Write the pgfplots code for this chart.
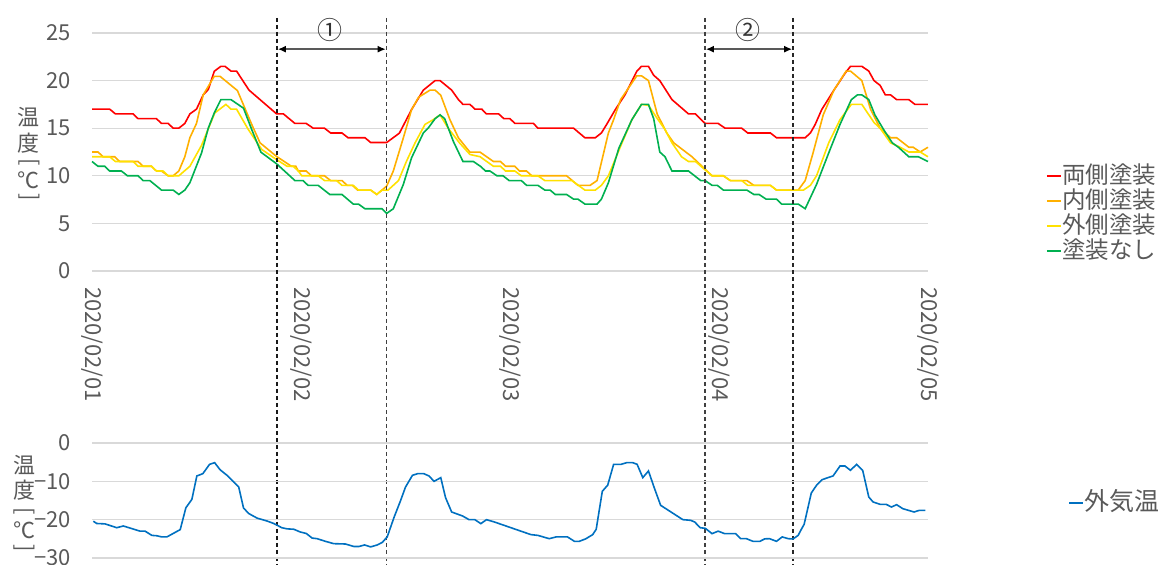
\documentclass[border=0pt]{standalone}
\usepackage{fontspec}
\setmainfont{Noto Sans CJK JP}
\usepackage{pgfplots}
\pgfplotsset{compat=1.18}
\usetikzlibrary{arrows.meta}
\definecolor{txtgray}{HTML}{595959}
\definecolor{gridgray}{HTML}{D9D9D9}
\definecolor{cRed}{HTML}{FF0000}
\definecolor{cOrange}{HTML}{FFB000}
\definecolor{cYellow}{HTML}{FFE100}
\definecolor{cGreen}{HTML}{00B050}
\definecolor{cBlue}{HTML}{0070C0}
\pgfplotsset{
  legend image code/.code={\draw[line width=0.9pt,#1] (0pt,0pt) -- (7pt,0pt);},
  exstyle/.style={
    scale only axis, width=418pt, xmin=0, xmax=96, clip=false,
    axis line style={draw=none}, tick style={draw=none}, major tick length=0pt,
    ymajorgrids, grid style={gridgray, line width=0.6pt},
    /pgf/number format/assume math mode=true,
    ticklabel style={font=\fontsize{11}{12}\selectfont, text=txtgray},
    yticklabel style={xshift=-7pt},
    legend style={draw=none, fill=none, font=\fontsize{11.75}{12.5}\selectfont, text=txtgray,
      inner sep=0pt, outer sep=0pt, row sep=0pt,
      nodes={inner sep=0.3pt, text height=9.8pt, text depth=2.2pt}},
    legend cell align=left,
    every axis plot/.append style={line width=0.8pt, mark=none},
  }
}
\begin{document}
\begin{tikzpicture}
\begin{axis}[exstyle, at={(46pt,-135.5pt)}, anchor=south west, height=119pt,
  ymin=0, ymax=25, ytick={0,5,10,15,20,25},
  xtick={0,24,48,72,96},
  xticklabels={2020/02/01,2020/02/02,2020/02/03,2020/02/04,2020/02/05},
  xticklabel style={yshift=-4.5pt, rotate=-90, anchor=west},
  legend style={at={(1.141,0.2416)}, anchor=west}]
\addplot[color=cRed] coordinates {(0,17.0) (2.03,17.0) (2.69,16.5) (4.72,16.5) (5.29,16.0) (7.4,16.0) (7.98,15.5) (8.75,15.5) (9.32,15.0) (9.97,15.0) (10.66,15.5) (11.24,16.5) (12.0,17.0) (12.77,18.5) (13.35,19.06) (14.04,20.98) (14.8,21.5) (15.27,21.5) (15.96,21.0) (16.6,21.0) (18.03,19.0) (21.2,16.5) (21.98,16.5) (23.3,15.5) (24.6,15.5) (25.4,15.0) (26.7,15.0) (27.4,14.5) (28.7,14.5) (29.4,14.0) (31.34,14.0) (32.0,13.5) (33.84,13.5) (35.3,14.48) (36.7,16.96) (38.05,19.0) (39.4,20.0) (39.97,20.0) (41.3,19.0) (42.08,18.0) (42.6,17.5) (43.4,17.5) (43.98,17.0) (44.76,17.0) (45.3,16.5) (46.7,16.5) (47.3,16.0) (48.0,16.0) (48.56,15.5) (50.7,15.5) (51.2,15.0) (55.3,15.0) (56.6,14.0) (57.8,14.0) (58.5,14.5) (59.1,15.4) (60.1,16.96) (61.2,18.5) (62.56,20.98) (63.1,21.5) (63.9,21.5) (64.5,20.56) (65.2,20.0) (66.6,18.0) (68.5,16.5) (69.3,16.5) (70.4,15.5) (71.9,15.5) (72.7,15.0) (74.6,15.0) (75.3,14.5) (77.9,14.5) (78.6,14.0) (81.9,14.0) (82.5,14.5) (83.05,15.4) (83.8,16.96) (85.2,19.0) (86.5,20.8) (87.1,21.5) (88.4,21.5) (89.2,21.0) (89.8,20.0) (90.5,19.5) (91.1,18.5) (91.7,18.5) (92.4,18.0) (93.8,18.0) (94.5,17.5) (96,17.5)};
\addlegendentry{両側塗装}
\addplot[color=cOrange] coordinates {(0,12.5) (0.69,12.5) (1.27,12.0) (2.6,12.0) (3.18,11.5) (5.29,11.5) (5.87,11.0) (6.83,11.0) (7.4,10.5) (7.98,10.5) (8.75,10.0) (9.32,10.0) (9.97,10.5) (10.66,12.0) (11.24,14.0) (12.0,15.5) (12.77,18.5) (14.04,20.45) (14.7,20.45) (16.7,18.95) (18.34,15.4) (19.3,13.46) (21.2,12.03) (22.9,11.0) (23.4,11.0) (23.7,10.5) (24.6,10.5) (25.2,10.0) (26.7,10.0) (27.4,9.5) (28.7,9.5) (29.3,9.0) (29.9,9.0) (30.5,8.5) (32.0,8.5) (32.7,8.04) (33.84,8.92) (34.6,10.5) (35.75,13.98) (36.7,16.96) (37.5,18.25) (38.82,19.0) (39.4,19.0) (40.05,18.46) (41.1,15.9) (42.08,13.98) (43.4,12.48) (44.57,12.48) (46.1,11.5) (46.9,11.5) (47.5,11.0) (48.56,11.0) (49.1,10.5) (49.9,10.5) (50.5,10.0) (54.5,10.0) (55.8,9.0) (57.2,9.0) (58.0,9.5) (59.3,14.5) (59.9,15.9) (60.7,18.0) (62.56,20.5) (63.1,20.5) (63.9,20.0) (64.9,16.5) (66.0,14.5) (66.8,13.46) (68.9,12.0) (71.2,10.0) (72.5,10.0) (73.3,9.5) (75.2,9.5) (76.0,9.0) (77.9,9.0) (78.6,8.5) (81.1,8.5) (81.9,9.5) (82.8,12.4) (83.97,16.4) (85.2,19.0) (86.6,21.0) (87.1,21.0) (88.4,20.0) (89.4,17.0) (90.5,15.0) (91.7,14.0) (92.4,14.0) (93.8,13.0) (94.3,13.0) (95.1,12.5) (96,13.0)};
\addlegendentry{内側塗装}
\addplot[color=cYellow] coordinates {(0,12.0) (2.03,12.0) (2.69,11.5) (4.72,11.5) (5.29,11.0) (6.83,11.0) (7.4,10.5) (8.17,10.5) (8.75,10.0) (9.97,10.0) (11.24,11.0) (12.58,13.2) (14.1,16.6) (15.38,17.5) (15.96,17.0) (16.6,17.0) (17.95,14.86) (19.5,12.76) (21.2,11.7) (22.4,11.0) (23.1,11.0) (23.7,10.5) (24.1,10.0) (25.97,10.0) (26.7,9.5) (28.08,9.5) (28.7,9.0) (30.0,9.0) (30.6,8.5) (32.0,8.5) (32.7,8.04) (33.3,8.5) (34.0,8.5) (35.2,9.5) (36.1,11.5) (37.1,13.46) (38.24,15.4) (39.2,15.9) (39.97,16.4) (40.9,15.0) (42.2,13.46) (43.4,12.24) (44.57,12.0) (46.1,11.0) (46.9,11.0) (47.5,10.5) (48.56,10.5) (49.3,10.0) (51.2,10.0) (52.0,9.5) (55.1,9.5) (56.6,8.5) (57.8,8.5) (58.5,9.0) (59.3,10.0) (60.7,13.1) (62.0,15.9) (63.1,17.5) (63.9,17.4) (65.0,15.9) (65.8,14.86) (66.6,13.46) (67.7,12.0) (68.5,11.5) (69.3,11.5) (71.2,10.0) (72.5,10.0) (73.3,9.5) (74.6,9.5) (75.3,9.0) (77.9,9.0) (78.6,8.5) (81.7,8.5) (82.5,9.0) (83.2,10.0) (84.6,13.46) (85.9,15.9) (87.2,17.5) (88.4,17.5) (89.8,15.6) (90.5,15.0) (91.7,13.46) (92.8,13.0) (93.8,12.5) (95.1,12.5) (96,12.0)};
\addlegendentry{外側塗装}
\addplot[color=cGreen] coordinates {(0,11.5) (0.69,11.0) (1.46,11.0) (2.03,10.5) (3.38,10.5) (4.07,10.0) (5.29,10.0) (5.87,9.5) (6.64,9.5) (7.98,8.5) (9.32,8.5) (9.97,8.04) (10.66,8.5) (11.24,9.27) (12.58,12.4) (13.35,15.0) (14.04,16.6) (14.8,18.0) (15.96,18.0) (17.4,17.1) (18.34,14.86) (19.4,12.48) (21.2,11.26) (23.3,9.5) (24.24,9.5) (24.8,9.0) (25.97,9.0) (27.3,8.04) (28.7,8.04) (30.0,7.03) (30.6,7.03) (31.34,6.54) (33.3,6.54) (33.84,6.05) (34.6,6.54) (35.75,9.09) (36.7,11.9) (38.05,14.5) (38.6,15.0) (39.4,16.0) (39.97,16.4) (40.5,16.0) (41.5,13.6) (42.6,11.5) (43.8,11.5) (44.6,11.0) (45.2,10.5) (45.7,10.5) (46.5,10.0) (47.2,10.0) (47.9,9.5) (49.3,9.5) (49.9,9.0) (51.2,9.0) (52.0,8.5) (52.6,8.5) (53.2,8.04) (54.5,8.04) (55.3,7.55) (55.8,7.55) (56.6,7.03) (58.0,7.03) (58.5,7.55) (59.3,9.27) (60.5,12.9) (62.0,15.9) (63.1,17.5) (63.9,17.5) (64.5,16.0) (65.2,12.5) (65.8,12.0) (66.6,10.5) (68.5,10.5) (69.9,9.5) (70.4,9.5) (71.2,9.0) (71.8,9.0) (72.5,8.5) (75.2,8.5) (76.0,8.04) (76.6,8.04) (77.4,7.55) (78.6,7.55) (79.2,7.03) (81.1,7.03) (81.9,6.54) (83.2,9.09) (84.6,12.4) (85.9,15.4) (87.2,18.0) (87.9,18.5) (88.4,18.5) (89.2,18.0) (89.9,16.4) (90.9,14.86) (91.9,13.46) (92.6,13.0) (93.8,12.0) (94.9,12.0) (96,11.5)};
\addlegendentry{塗装なし}
\draw[dash pattern=on 2pt off 1.5pt, line width=0.6pt, black!90] (axis cs:21.25,26.6) -- (axis cs:21.25,-31);
\draw[dash pattern=on 2pt off 1.5pt, line width=0.6pt, black!75] (axis cs:33.83,26.6) -- (axis cs:33.83,-31);
\draw[dash pattern=on 2pt off 1.5pt, line width=0.6pt, black!75] (axis cs:70.4,26.6) -- (axis cs:70.4,-31);
\draw[dash pattern=on 2pt off 1.5pt, line width=0.6pt, black!85] (axis cs:80.5,26.6) -- (axis cs:80.5,-31);
\draw[{Latex[length=4pt,width=3.5pt,color=black]}-{Latex[length=4pt,width=3.5pt,color=black]}, txtgray, line width=0.7pt] (axis cs:21.35,23.3) -- (axis cs:33.73,23.3);
\draw[{Latex[length=4pt,width=3.5pt,color=black]}-{Latex[length=4pt,width=3.5pt,color=black]}, txtgray, line width=0.7pt] (axis cs:70.5,23.3) -- (axis cs:80.4,23.3);
\node[font=\fontsize{12.5}{12.5}\selectfont, text=black!80, inner sep=0pt] at (axis cs:27.33,25.3) {①};
\node[font=\fontsize{12.5}{12.5}\selectfont, text=black!80, inner sep=0pt] at (axis cs:75.33,25.3) {②};
\end{axis}
\begin{axis}[exstyle, at={(46pt,-279pt)}, anchor=south west, height=57.5pt,
  ymin=-30, ymax=0, ytick={-30,-20,-10,0}, yticklabels={−30,−20,−10,0},
  xtick=\empty,
  legend style={at={(1.168,0.478)}, anchor=west, font=\fontsize{12.5}{13}\selectfont}]
\addplot[color=cBlue] coordinates {(0.15,-20.4) (0.54,-21.0) (1.5,-21.1) (2.84,-22.1) (3.6,-21.65) (5.52,-23.0) (6.1,-23.0) (6.87,-24.1) (7.45,-24.2) (8.0,-24.5) (8.6,-24.5) (10.13,-22.6) (10.78,-16.9) (11.47,-14.7) (12.04,-8.6) (12.73,-8.0) (13.5,-5.57) (14.08,-5.13) (14.7,-6.96) (15.5,-8.43) (16.27,-10.17) (16.85,-11.5) (17.4,-16.96) (18.0,-18.4) (18.96,-19.6) (20.1,-20.35) (20.87,-21.0) (21.8,-22.1) (22.4,-22.4) (23.17,-22.5) (23.9,-23.2) (24.6,-23.6) (25.28,-24.8) (25.85,-24.96) (26.8,-25.65) (27.76,-26.26) (29.1,-26.35) (30.07,-27.0) (30.65,-27.0) (31.3,-26.6) (32.0,-27.1) (32.76,-26.6) (33.35,-25.9) (33.9,-24.5) (34.7,-19.3) (35.44,-15.0) (36.0,-11.5) (36.8,-8.43) (37.4,-8.0) (38.1,-8.0) (38.7,-8.6) (39.28,-10.0) (40.05,-9.04) (40.6,-14.26) (41.3,-18.0) (42.55,-19.04) (43.3,-20.0) (43.96,-20.0) (44.65,-21.04) (45.3,-20.0) (46.2,-20.6) (50.4,-23.9) (51.2,-24.1) (52.5,-24.96) (53.3,-24.5) (54.6,-24.5) (55.4,-25.65) (55.96,-25.65) (56.7,-25.0) (57.5,-23.9) (57.9,-22.5) (58.6,-12.6) (59.22,-11.0) (59.9,-5.57) (60.75,-5.57) (61.4,-5.13) (62.1,-5.13) (62.6,-5.57) (63.25,-9.04) (63.9,-7.3) (64.6,-11.9) (65.3,-16.26) (67.85,-20.0) (68.74,-20.17) (69.2,-20.6) (69.85,-22.1) (70.43,-22.26) (71.2,-23.65) (71.9,-23.0) (72.65,-23.65) (73.9,-23.65) (74.5,-24.96) (75.15,-24.96) (75.9,-25.65) (76.7,-25.65) (77.26,-25.0) (77.8,-24.96) (78.6,-25.65) (79.26,-24.5) (79.94,-24.96) (80.5,-25.04) (81.09,-24.1) (81.46,-22.5) (81.78,-21.2) (82.6,-13.04) (83.2,-11.04) (83.85,-9.57) (84.5,-9.04) (85.1,-8.6) (85.9,-6.0) (86.46,-6.0) (87.1,-7.13) (87.8,-5.57) (88.5,-7.13) (89.2,-14.09) (89.7,-15.4) (90.5,-16.0) (91.2,-16.0) (91.8,-16.7) (92.4,-16.09) (93.1,-17.13) (94.4,-18.0) (95.0,-17.57) (95.7,-17.57)};
\addlegendentry{外気温}
\end{axis}
\begin{scope}[x=0.5pt,y=-0.5pt, every node/.style={font=\fontsize{11}{12}\selectfont, text=txtgray, inner sep=0pt}]
\node at (29,117) {温};
\node at (29,143) {度};
\node[rotate=-90] at (29,162) {[};
\node at (29,180) {℃};
\node[rotate=-90] at (29,197) {]};
\node at (24,465) {温};
\node at (24,490) {度};
\node[rotate=-90] at (24,511) {[};
\node at (24,530) {℃};
\node[rotate=-90] at (24,548) {]};
\end{scope}
\pgfresetboundingbox
\path (0pt,0pt) rectangle (579pt,-282.5pt);
\end{tikzpicture}
\end{document}
